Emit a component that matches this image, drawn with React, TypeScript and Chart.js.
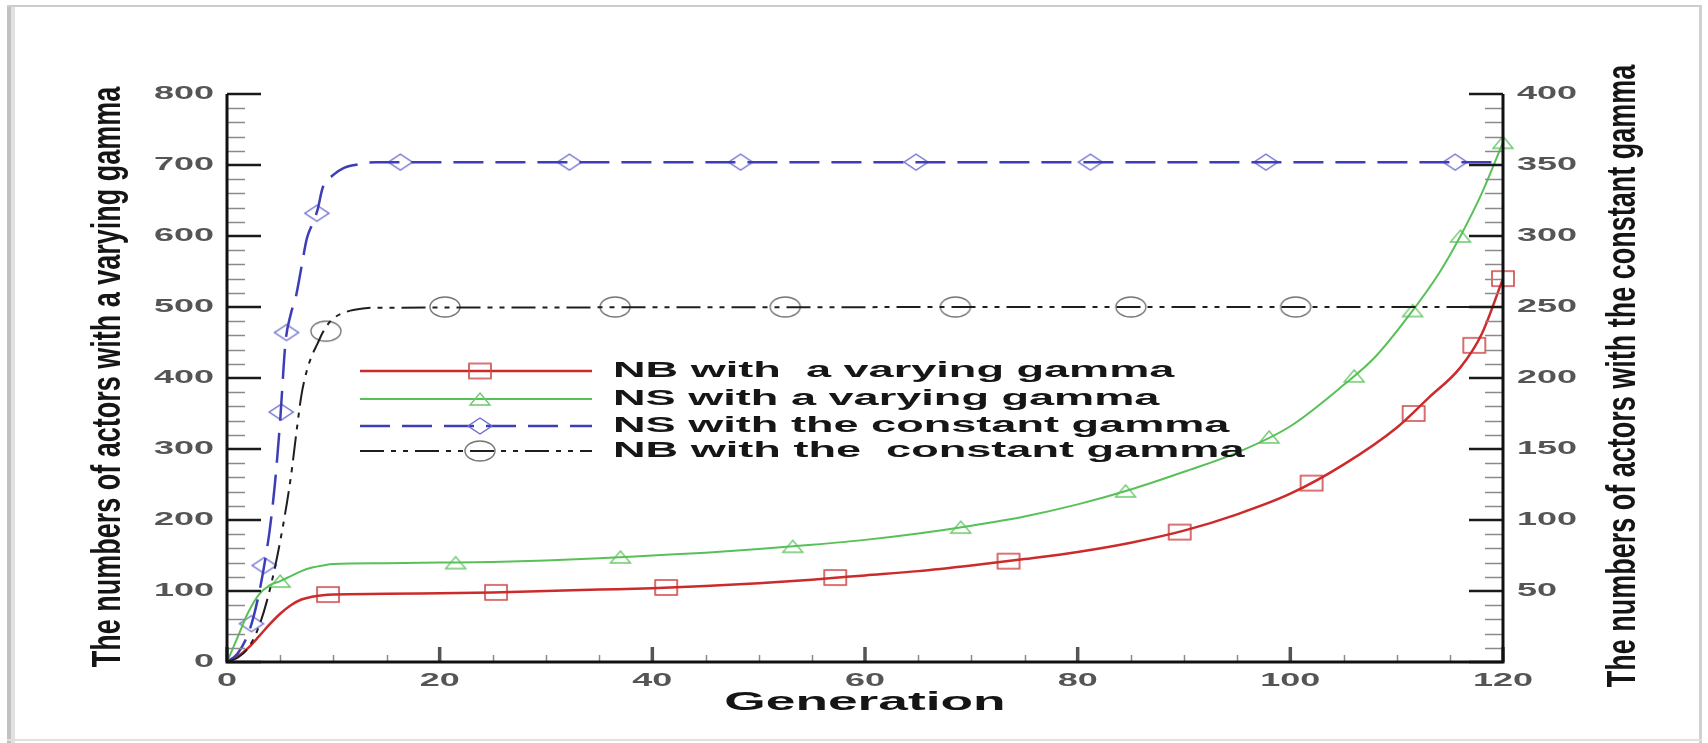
import React, { useEffect, useRef } from "react";
import { Chart, registerables } from "chart.js";
Chart.register(...registerables);

// ---------- data ----------
const xTicks = [0, 20, 40, 60, 80, 100, 120];
const leftTicks = [0, 100, 200, 300, 400, 500, 600, 700, 800];
const rightTicks = [50, 100, 150, 200, 250, 300, 350, 400];
const xMinorStep = 5;
const leftMinorStep = 20;
const rightMinorStep = 10;

const xTitle = "Generation";
const leftTitle = "The numbers of actors with a varying gamma";
const rightTitle = "The numbers of actors with the constant gamma";
const legendLabels = [
  "NB with  a varying gamma",
  "NS with a varying gamma",
  "NS with the constant gamma",
  "NB with the  constant gamma",
];

// NB with a varying gamma (left axis)
const nbVaryingGen = [0, 1, 2, 3, 4, 5, 6, 7, 8, 9, 10, 15, 20, 25, 30, 35, 40, 45, 50, 55, 60, 65, 70, 75, 80, 85, 90, 95, 100, 105, 110, 113, 116, 118, 120];
const nbVaryingVal = [0, 8, 20, 36, 53, 68, 80, 88, 92, 94, 95, 96, 97, 98, 100, 102, 104, 107, 111, 116, 122, 128, 136, 145, 155, 168, 185, 208, 237, 278, 330, 372, 415, 462, 540];
const nbVaryingMarkGen = [9.5, 25.3, 41.3, 57.2, 73.5, 89.6, 102, 111.6, 117.3, 120];
const nbVaryingMarkVal = [95, 98, 105, 119, 142, 183, 252, 350, 446, 540];

// NS with a varying gamma (left axis)
const nsVaryingGen = [0, 1, 2, 3, 4, 5, 6, 7, 8, 9, 10, 15, 20, 25, 30, 35, 40, 45, 50, 55, 60, 65, 70, 75, 80, 85, 90, 95, 100, 105, 108, 111, 114, 116, 118, 120];
const nsVaryingVal = [0, 35, 70, 95, 108, 114, 121, 128, 133, 136, 138, 139, 140, 141, 143, 146, 150, 154, 159, 165, 172, 181, 192, 205, 222, 243, 268, 295, 332, 390, 430, 485, 548, 600, 660, 732];
const nsVaryingMarkGen = [5, 21.5, 37, 53.2, 69, 84.5, 98, 106, 111.5, 116, 120];
const nsVaryingMarkVal = [114, 140, 148, 163, 190, 241, 317, 403, 495, 600, 732];

// NS with the constant gamma (right axis)
const nsConstGen = [0, 1, 2, 2.5, 3, 3.5, 4, 4.5, 5, 5.5, 6, 6.5, 7, 7.5, 8, 8.5, 9, 10, 11, 12, 14, 120];
const nsConstVal = [0, 6, 20, 32, 48, 68, 92, 125, 170, 225, 245, 258, 278, 298, 308, 318, 334, 343, 348, 350, 352, 352];
const nsConstMarkGen = [2.3, 3.5, 5.1, 5.6, 8.45, 16.3, 32.2, 48.3, 64.8, 81.2, 97.7, 115.5];
const nsConstMarkVal = [27, 68, 176, 232, 316, 352, 352, 352, 352, 352, 352, 352];

// NB with the constant gamma (right axis)
const nbConstGen = [0, 1, 2, 3, 4, 5, 6, 6.5, 7, 7.5, 8, 8.5, 9, 9.5, 10, 11, 12, 14, 120];
const nbConstVal = [0, 3, 10, 25, 50, 85, 130, 160, 188, 205, 216, 224, 232, 238, 242, 246, 248, 249.5, 250];
const nbConstMarkGen = [9.3, 20.5, 36.5, 52.5, 68.5, 85, 100.5];
const nbConstMarkVal = [233, 250, 250, 250, 250, 250, 250];

// ---------- helpers ----------
const zip = (xs: number[], ys: number[]) => xs.map((x, i) => ({ x, y: ys[i] }));

function makeMarker(kind: string, w: number, h: number, color: string, lw: number) {
  const c = document.createElement("canvas");
  const pad = Math.ceil(lw) + 1;
  c.width = w + pad * 2;
  c.height = h + pad * 2;
  const g = c.getContext("2d")!;
  g.strokeStyle = color;
  g.lineWidth = lw;
  const l = pad, t = pad, r = pad + w, b = pad + h, cx = pad + w / 2, cy = pad + h / 2;
  g.beginPath();
  if (kind === "square") {
    g.rect(l, t, w, h);
  } else if (kind === "triangle") {
    g.moveTo(cx, t);
    g.lineTo(r, b);
    g.lineTo(l, b);
    g.closePath();
  } else if (kind === "diamond") {
    g.moveTo(cx, t);
    g.lineTo(r, cy);
    g.lineTo(cx, b);
    g.lineTo(l, cy);
    g.closePath();
  } else {
    g.ellipse(cx, cy, w / 2, h / 2, 0, 0, Math.PI * 2);
  }
  g.stroke();
  return c;
}

function stretchText(ctx: CanvasRenderingContext2D, text: string, x: number, y: number, font: string, sx: number, align: string, color: string) {
  ctx.save();
  ctx.font = font;
  ctx.fillStyle = color;
  ctx.textBaseline = "middle";
  ctx.textAlign = "left";
  const w = ctx.measureText(text).width * sx;
  const left = align === "center" ? x - w / 2 : align === "right" ? x - w : x;
  ctx.translate(left, y);
  ctx.scale(sx, 1);
  ctx.fillText(text, 0, 0);
  ctx.restore();
}

function rotatedText(ctx: CanvasRenderingContext2D, text: string, cx: number, cy: number, font: string, sy: number, color: string) {
  ctx.save();
  ctx.font = font;
  ctx.fillStyle = color;
  ctx.textBaseline = "middle";
  ctx.textAlign = "center";
  ctx.translate(cx, cy);
  ctx.rotate(-Math.PI / 2);
  ctx.scale(1, sy);
  ctx.fillText(text, 0, 0);
  ctx.restore();
}

const RED = "#cc2b2b";
const GREEN = "#58c058";
const BLUE = "#3d3db8";
const BLACK = "#1e1e1e";
const FONT = '"Liberation Sans", Arial, sans-serif';

export default function App() {
  const ref = useRef<HTMLCanvasElement | null>(null);

  useEffect(() => {
    if (!ref.current) return;
    const mSquare = makeMarker("square", 22, 15, "#d04848", 1.6);
    const mTri = makeMarker("triangle", 20, 12, "#6cc86c", 1.4);
    const mDiamond = makeMarker("diamond", 24, 16, "#6a6ad0", 1.4);
    const mCircle = makeMarker("circle", 30, 20, "#777777", 1.4);

    const legendItems = [
      { label: legendLabels[0], color: RED, width: 2.5, dash: [] as number[], marker: mSquare },
      { label: legendLabels[1], color: GREEN, width: 2, dash: [] as number[], marker: mTri },
      { label: legendLabels[2], color: BLUE, width: 2.5, dash: [30, 12], marker: mDiamond },
      { label: legendLabels[3], color: BLACK, width: 2, dash: [24, 7, 5, 7, 5, 7], marker: mCircle },
    ];

    const framePlugin = {
      id: "frame",
      beforeDraw(chart: any) {
        const ctx = chart.ctx as CanvasRenderingContext2D;
        const W = chart.width, H = chart.height;
        ctx.save();
        ctx.fillStyle = "#ffffff";
        ctx.fillRect(0, 0, W, H);
        // picture frame: heavier on the left, thin elsewhere
        ctx.fillStyle = "#c2c2c2";
        ctx.fillRect(7, 5, 4, H - 5);
        ctx.fillStyle = "#e2e2e2";
        ctx.fillRect(11, 5, 4, H - 5);
        ctx.fillStyle = "#cccccc";
        ctx.fillRect(7, 5, 1695, 2);
        ctx.fillStyle = "#d0d0d0";
        ctx.fillRect(1699, 5, 3, H - 5);
        ctx.fillStyle = "#e0e0e0";
        ctx.fillRect(7, 739, 1695, 2);
        ctx.restore();
      },
    };

    const axesPlugin = {
      id: "axesDraw",
      afterDatasetsDraw(chart: any) {
        const ctx = chart.ctx as CanvasRenderingContext2D;
        const a = chart.chartArea;
        const sx = chart.scales.x;
        const yl = chart.scales.yL;
        const yr = chart.scales.yR;
        ctx.save();
        // minor ticks
        ctx.strokeStyle = "#8a8a8a";
        ctx.lineWidth = 1.5;
        ctx.beginPath();
        for (let v = 0; v <= 800; v += leftMinorStep) {
          if (v % 100 === 0) continue;
          const y = Math.round(yl.getPixelForValue(v)) + 0.5;
          ctx.moveTo(a.left, y);
          ctx.lineTo(a.left + 18, y);
        }
        for (let v = 0; v <= 400; v += rightMinorStep) {
          if (v % 50 === 0) continue;
          const y = Math.round(yr.getPixelForValue(v)) + 0.5;
          ctx.moveTo(a.right, y);
          ctx.lineTo(a.right - 18, y);
        }
        for (let v = 0; v <= 120; v += xMinorStep) {
          if (v % 20 === 0) continue;
          const x = Math.round(sx.getPixelForValue(v)) + 0.5;
          ctx.moveTo(x, a.bottom);
          ctx.lineTo(x, a.bottom - 7);
        }
        ctx.stroke();
        // major ticks
        ctx.strokeStyle = "#1a1a1a";
        ctx.lineWidth = 2.5;
        ctx.beginPath();
        leftTicks.forEach((v) => {
          const y = yl.getPixelForValue(v);
          ctx.moveTo(a.left, y);
          ctx.lineTo(a.left + 34, y);
        });
        [0, ...rightTicks].forEach((v) => {
          const y = yr.getPixelForValue(v);
          ctx.moveTo(a.right, y);
          ctx.lineTo(a.right - 34, y);
        });
        ctx.stroke();
        ctx.strokeStyle = "#555";
        ctx.lineWidth = 3.5;
        ctx.beginPath();
        xTicks.forEach((v) => {
          const x = sx.getPixelForValue(v);
          ctx.moveTo(x, a.bottom);
          ctx.lineTo(x, a.bottom - 15);
        });
        ctx.stroke();
        // axis lines
        ctx.strokeStyle = "#111";
        ctx.lineWidth = 3;
        ctx.beginPath();
        ctx.moveTo(a.left, a.top);
        ctx.lineTo(a.left, a.bottom);
        ctx.lineTo(a.right, a.bottom);
        ctx.lineTo(a.right, a.top);
        ctx.stroke();

        // tick labels
        const tickFont = `bold 18px ${FONT}`;
        leftTicks.forEach((v) => {
          stretchText(ctx, String(v), a.left - 13, yl.getPixelForValue(v), tickFont, 2.0, "right", "#555");
        });
        rightTicks.forEach((v) => {
          stretchText(ctx, String(v), a.right + 14, yr.getPixelForValue(v), tickFont, 2.0, "left", "#555");
        });
        xTicks.forEach((v) => {
          stretchText(ctx, String(v), sx.getPixelForValue(v), a.bottom + 19, tickFont, 2.0, "center", "#555");
        });
        // titles
        stretchText(ctx, xTitle, (a.left + a.right) / 2, a.bottom + 41, `bold 26px ${FONT}`, 2.05, "center", "#151515");
        rotatedText(ctx, leftTitle, 109, (a.top + a.bottom) / 2 - 1, `bold 27px ${FONT}`, 1.5, "#151515");
        rotatedText(ctx, rightTitle, 1624, (a.top + a.bottom) / 2 - 2, `bold 27px ${FONT}`, 1.5, "#151515");

        // legend
        const rowY = [371, 399, 426, 451];
        legendItems.forEach((it, i) => {
          const y = rowY[i];
          ctx.save();
          ctx.strokeStyle = it.color;
          ctx.lineWidth = it.width;
          ctx.setLineDash(it.dash);
          ctx.beginPath();
          ctx.moveTo(360, y);
          ctx.lineTo(592, y);
          ctx.stroke();
          ctx.restore();
          ctx.drawImage(it.marker, 480 - it.marker.width / 2, y - it.marker.height / 2);
          stretchText(ctx, it.label, 613, y, `bold 22px ${FONT}`, 2.05, "left", "#161616");
        });
        ctx.restore();
      },
    };

    const lineDs = (data: any[], color: string, width: number, dash: number[], axis: string) => ({
      data,
      yAxisID: axis,
      borderColor: color,
      borderWidth: width,
      borderDash: dash,
      pointRadius: 0,
      fill: false,
      cubicInterpolationMode: "monotone",
      clip: false,
    });
    const markDs = (data: any[], img: HTMLCanvasElement, axis: string) => ({
      data,
      yAxisID: axis,
      showLine: false,
      pointStyle: img,
      pointRadius: 8,
      borderColor: "rgba(0,0,0,0)",
      backgroundColor: "rgba(0,0,0,0)",
      clip: false,
    });

    const chart = new Chart(ref.current, {
      type: "line",
      data: {
        datasets: [
          lineDs(zip(nbConstGen, nbConstVal), BLACK, 2, [24, 7, 5, 7, 5, 7], "yR"),
          lineDs(zip(nsConstGen, nsConstVal), BLUE, 2.5, [30, 12], "yR"),
          lineDs(zip(nsVaryingGen, nsVaryingVal), GREEN, 2, [], "yL"),
          lineDs(zip(nbVaryingGen, nbVaryingVal), RED, 2.5, [], "yL"),
          markDs(zip(nbConstMarkGen, nbConstMarkVal), mCircle, "yR"),
          markDs(zip(nsConstMarkGen, nsConstMarkVal), mDiamond, "yR"),
          markDs(zip(nsVaryingMarkGen, nsVaryingMarkVal), mTri, "yL"),
          markDs(zip(nbVaryingMarkGen, nbVaryingMarkVal), mSquare, "yL"),
        ] as any,
      },
      options: {
        animation: false,
        responsive: false,
        devicePixelRatio: 1,
        layout: { padding: { left: 227, right: 205, top: 94, bottom: 81 } },
        plugins: { legend: { display: false }, tooltip: { enabled: false }, title: { display: false } },
        events: [],
        scales: {
          x: { type: "linear", min: 0, max: 120, display: false },
          yL: { type: "linear", position: "left", min: 0, max: 800, display: false },
          yR: { type: "linear", position: "right", min: 0, max: 400, display: false },
        },
      } as any,
      plugins: [framePlugin, axesPlugin],
    });
    return () => chart.destroy();
  }, []);

  return (
    <div style={{ position: "fixed", left: 0, top: 0, width: 1708, height: 743, background: "#fff" }}>
      <canvas ref={ref} width={1708} height={743} style={{ width: 1708, height: 743, display: "block" }} />
    </div>
  );
}
